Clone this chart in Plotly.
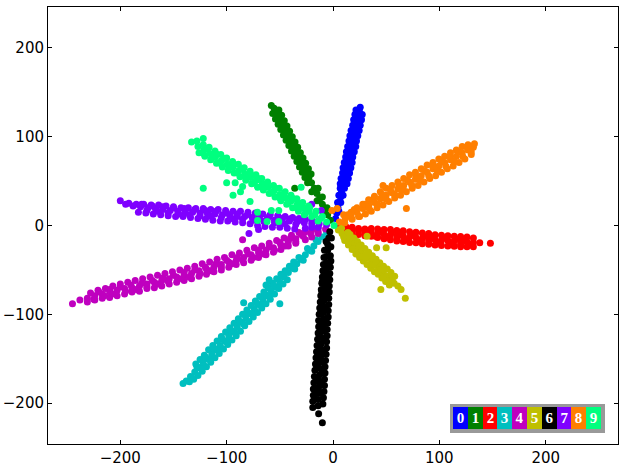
"""Ten-class scatter: points of each digit fan out from the origin."""
import plotly.graph_objects as go

digits = ["0", "1", "2", "3", "4", "5", "6", "7", "8", "9"]
colors = ["#0000FF", "#008000", "#FF0000", "#00BFBF", "#BF00BF",
          "#BFBF00", "#000000", "#7F00FF", "#FF7F00", "#00FF7F"]
tick_vals = [-200, -100, 0, 100, 200]

# values, one pair of lists per digit
x0 = [2.5, 3.6, 4.7, 5.8, 7.2, 8, 9.1, 10.6, 11.4, 12.2, 13.6, 15, 15.8, 16.9, 18.3, 19.1, 20, 21.4, 22.5, 23.6, 24.9, 25.6,
      6.8, 7.6, 9, 9.5, 10.6, 11.9, 12.6, 13.8, 15, 15.9, 17, 18.5, 19.4, 20.6, 21.6,
      13.2, 14.4, 15.6, 16.8, 18, 18.6, 20, 21.4, 22.1, 23.3, 24.6, 25.6, 26.8, 27.5,
      2.5, 5.5, 4.3, 7.3, 5.5, 9.5, 6.8, 10.8]
y0 = [8, 14, 20, 26, 32, 38, 44, 50, 56, 62, 68, 74, 80, 86, 92, 98, 104, 110, 116, 122, 128, 133,
      47, 53, 59, 65, 71, 77, 83, 89, 95, 101, 107, 113, 119, 125, 130,
      47, 53, 59, 65, 71, 77, 83, 89, 95, 101, 107, 113, 119, 125,
      16, 16, 26, 26, 34, 34, 42, 42]

x1 = [-2.5, -5, -7.6, -10, -12.6, -15.1, -17.6, -20.2, -22.7, -25.2, -27.7, -30.2, -32.8, -35.3, -37.8, -40.3, -42.8, -45.4, -47.9, -50.4, -52.9, -55.4, -58,
      -20.6, -23.1, -25.7, -28.2, -30.7, -33.2, -35.7, -38.3, -40.8, -43.3, -45.8, -48.3, -50.9,
      -23.9, -26.4, -28.9, -31.5, -34, -36.5, -39, -41.5, -44.1, -46.6, -49.1, -51.6, -54.1, -56.7, -36,
      -5.6, -9.6, -10, -15, -14, -20]
y1 = [6, 12, 18, 24, 30, 36, 42, 48, 54, 60, 66, 72, 78, 84, 90, 96, 102, 108, 114, 120, 126, 132, 135,
      58, 64, 70, 76, 82, 88, 94, 100, 106, 112, 118, 124, 130,
      48, 54, 60, 66, 72, 78, 84, 90, 96, 102, 108, 114, 120, 126, 42,
      20, 16, 32, 28, 42, 38]

x2 = [6, 12, 18, 24, 30, 36, 42, 48, 54, 60, 66, 72, 78, 84, 90, 96, 102, 108, 114, 120, 126, 132, 138, 148,
      24, 30, 36, 42, 48, 54, 60, 66, 72, 78, 84, 90, 96, 102, 108, 114, 120, 126, 132,
      36, 42, 48, 54, 60, 66, 72, 78, 84, 90, 96, 102, 108, 114, 120, 126, 132,
      35, 40, 45, 50, 55, 60, 65, 70, 75, 80, 85, 90, 95, 100, 105, 110, 115, 120, 125, 130,
      12, 12, 18, 18, 24, 30]
y2 = [-2, -4, -5, -6, -7.5, -8, -9, -10, -10.5, -11.5, -12, -13, -13.5, -14.5, -15, -16, -16.5, -17, -17.5, -18, -18.5, -19, -19.5, -20,
      -3.5, -4, -3.5, -4, -4.5, -4.5, -5.5, -6, -7, -7.5, -8.5, -9, -10.5, -11, -11.5, -12, -12.5, -13, -14,
      -12, -13.5, -15, -16, -17.5, -18, -19, -19.5, -20.5, -21, -22, -22.5, -23, -23.5, -24, -24, -24,
      -5, -12, -7, -13, -8, -15, -9, -16, -11, -17, -12, -18, -13, -19.5, -14, -20, -15, -21, -16, -22,
      -1, -7, -2, -8, -10, -11.5]

x3 = [-6, -10, -14, -18, -22, -26, -30, -34, -38, -42, -46, -50, -54, -58, -62, -66, -70, -74, -78, -82, -86, -90, -94, -98, -102, -106, -110, -114, -118, -122, -126, -130, -134, -138, -141,
      -37, -41, -45, -49, -53, -57, -61, -65, -69, -73, -77, -81, -85, -89, -93, -97, -101, -105, -109, -113, -117, -121, -125, -129,
      -43, -47, -51, -55, -59, -63, -67, -71, -75, -79, -83, -87, -91, -95, -99, -103, -107, -111, -115, -119, -123, -127, -131, -135,
      -48, -52, -56, -60, -64, -68, -72, -76, -80, -84, -88, -92, -96, -100, -104, -108, -112, -116, -120, -124, -128, -132,
      -63, -50, -84, -60, -16, -20, -24, -28, -32, -36]
y3 = [-8, -13, -18, -23, -28, -33, -38, -43, -48, -53, -58, -64, -69, -74, -79, -84, -89, -94, -99, -104, -109, -114, -119, -124, -130, -135, -140, -145, -150, -155, -160, -165, -170, -175, -178,
      -41, -46, -51, -55, -60, -65, -70, -75, -80, -85, -90, -95, -100, -105, -110, -115, -120, -125, -130, -135, -140, -146, -151, -156,
      -61, -66, -71, -77, -83, -88, -93, -98, -103, -108, -113, -119, -124, -129, -134, -139, -144, -149, -154, -159, -164, -169, -173, -176,
      -57, -70, -67, -80, -77, -90, -87, -100, -98, -111, -108, -121, -118, -131, -128, -141, -138, -151, -148, -161, -159, -172,
      -67, -88, -87, -61, -16, -29, -26, -39, -36, -49]

x4 = [-7, -14, -21, -28, -35, -42, -49, -56, -63, -70, -77, -84, -91, -98, -105, -112, -119, -126, -133, -140, -147, -154, -161, -168, -175, -182, -189, -196, -203, -210, -217, -224, -231, -238, -245,
      -32, -39, -46, -53, -60, -67, -74, -81, -88, -95, -102, -109, -116, -123, -130, -137, -144, -151, -158, -165, -172, -179, -186, -193, -200, -207, -214, -221, -228,
      -35, -42, -49, -56, -63, -70, -77, -84, -91, -98, -105, -112, -119, -126, -133, -140, -147, -154, -161, -168, -175, -182, -189, -196, -203, -210, -217, -224, -231,
      -30, -35, -40, -45, -50, -55, -60, -65, -70, -75, -80, -85, -90, -95, -100, -105, -110, -115, -120, -125, -130, -135, -140, -145, -150, -155, -160, -165, -170, -175, -180, -185, -190, -195, -200, -205, -210, -215, -220, -225,
      -85, -14, -14, -20, -20, -26, -26]
y4 = [-4, -7, -9, -12, -15, -18, -22, -25, -28, -31, -33, -36, -39, -41, -44, -47, -49, -51, -54, -56, -58, -60, -62, -64, -66, -68, -70, -71, -73, -75, -77, -79, -82, -84, -88,
      -8, -11, -14, -17, -20, -23, -25, -28, -31, -33, -36, -38, -41, -43, -46, -48, -50, -52, -54, -56, -58, -60, -62, -64, -66, -68, -71, -73, -76,
      -20, -23, -27, -30, -33, -36, -39, -42, -44, -47, -50, -52, -55, -57, -60, -62, -64, -66, -68, -70, -71, -74, -75, -77, -79, -81, -82, -84, -86,
      -10, -18, -14, -23, -19, -28, -24, -32, -28, -36, -32, -39, -36, -43, -39, -47, -43, -51, -47, -54, -50, -58, -53, -60, -56, -63, -59, -66, -62, -69, -65, -72, -67, -74, -69, -77, -72, -79, -75, -83,
      -16, -3, -9, -5, -13, -7, -16]

x5 = [5, 8.5, 12, 15.5, 19, 22.5, 26, 29.5, 33, 36.5, 40, 43.5, 47, 50.5, 54, 57.5, 61, 64,
      16, 19.5, 23, 26.5, 30, 33.5, 37, 40.5, 44, 47.5, 51, 54.5, 58,
      11, 14.5, 18, 21.5, 25, 28.5, 32, 35.5, 39, 42.5, 46, 49.5, 53,
      16, 20, 24, 28, 32, 36, 40, 44, 48, 52, 56,
      68, 45, 41, 50, 32, 8, 10, 14]
y5 = [-5, -9, -13, -17, -21, -25, -29, -33, -37, -41, -45, -49, -53, -57, -61, -65, -68, -72,
      -10, -14, -18, -22, -26, -30, -34, -38, -42, -46, -49, -53, -57,
      -17, -22, -27, -32, -36, -40, -44, -48, -52, -55, -59, -63, -67,
      -14, -26, -23, -35, -32, -44, -41, -53, -50, -62, -59,
      -82, -72, -25, -25, -12, -3, -13, -8]

x6 = [-3, -4, -5, -5, -6, -6, -6.5, -7, -7.5, -7.5, -8, -8.5, -8.5, -9, -9, -9.5, -10, -10.5, -11, -11, -11.5, -12, -12, -12.5, -13, -13.5, -14, -14, -14, -13.5, -10,
      -2, -2.5, -3, -3, -3.5, -3.5, -4, -4, -4.5, -4.5, -5, -5.5, -5.5, -6, -6, -6.5, -7, -7.5, -7.5, -8, -8, -8.5, -9, -9.5,
      -9, -9.5, -10, -10.5, -11, -11.5, -12, -12.5, -13, -13.5, -13.5, -14, -14.5, -15, -15.5, -16, -16.5, -17, -17.5, -18, -18.5, -18.5, -19, -19,
      -3.5, -9, -4.5, -10, -5, -10.5, -6, -11, -6.5, -12, -7, -12, -7.5, -13, -8, -14, -8.5, -14.5, -9, -15, -10, -16, -11, -16.5, -11.5, -17,
      -1.5, -6.5, -2, -8, -2.5, -8.5]
y6 = [-7, -14, -21, -28, -35, -42, -49, -56, -63, -70, -77, -84, -91, -98, -105, -112, -119, -126, -133, -140, -147, -154, -161, -168, -175, -182, -189, -196, -203, -212, -222,
      -40, -47, -54, -61, -68, -75, -82, -89, -96, -103, -110, -117, -124, -131, -138, -145, -152, -159, -166, -173, -180, -187, -194, -201,
      -44, -51, -58, -65, -72, -79, -86, -93, -100, -107, -114, -121, -128, -135, -142, -149, -156, -163, -170, -177, -184, -191, -198, -205,
      -45, -51, -57, -63, -69, -75, -81, -87, -93, -99, -105, -111, -117, -123, -129, -135, -141, -147, -153, -159, -165, -171, -177, -183, -189, -195,
      -14, -18, -24, -28, -34, -36]

x7 = [-6, -13, -20, -27, -34, -41, -48, -55, -62, -69, -76, -83, -90, -97, -104, -111, -118, -125, -132, -139, -146, -153, -160, -167, -174, -181, -188, -195, -200,
      -38, -45, -52, -59, -66, -73, -80, -87, -94, -101, -108, -115, -122, -129, -136, -143, -150, -157, -164, -171, -178, -185, -192,
      -36, -43, -50, -57, -64, -71, -78, -85, -92, -99, -106, -113, -120, -127, -134, -141, -148, -155, -162, -169, -176, -183,
      -30, -35, -40, -45, -50, -55, -60, -65, -70, -75, -80, -85, -90, -95, -100, -105, -110, -115, -120, -125, -130, -135, -140, -145, -150, -155, -160, -165, -170, -175, -180,
      -79, -70, -20, -11, -14, -14, -20, -20, -26, -26, -32]
y7 = [1, 2, 2, 3, 4, 5, 5, 6, 7, 8, 9, 10, 10, 11, 12, 13, 13, 14, 15, 15, 16, 17, 18, 19, 20, 21, 22, 24, 28,
      9, 10, 11, 12, 13, 14, 15, 16, 16, 17, 18, 18, 19, 19, 20, 20, 21, 22, 23, 23, 24, 24, 25,
      -4, -3, -2, -2, -1, 0, 2, 3, 4, 5, 5, 6, 7, 8, 9, 10, 10, 11, 12, 13, 14, 15,
      6, 1, 7.5, 2, 8.5, 3, 10, 4.5, 11.5, 6, 12.5, 7, 13, 8, 14, 9, 16, 10.5, 17, 11, 18, 12, 19, 13, 20, 14, 21, 16, 22, 17, 24,
      -9, -4.5, 24, 17, 5, -2, 6, -2, 7, -3, 8]

x8 = [6, 11.5, 17, 22.5, 28, 33.5, 39, 44.5, 50, 55.5, 61, 66.5, 72, 77.5, 83, 88.5, 94, 99.5, 105, 110.5, 116, 121.5, 127, 132,
      17, 22.5, 28, 33.5, 39, 44.5, 50, 55.5, 61, 66.5, 72, 77.5, 83, 88.5, 94, 99.5, 105, 110.5, 116, 121.5, 127, 133,
      25, 30.5, 36, 41.5, 47, 52.5, 58, 63.5, 69, 74.5, 80, 85.5, 91, 96.5, 102, 107.5, 113, 118.5, 124, 130,
      30, 34, 38, 42, 46, 50, 54, 58, 62, 66, 70, 74, 78, 82, 86, 90, 94, 98, 102, 106, 110, 114, 118, 122, 126, 130,
      69, 47, 4, -1, 10, 11, 14, 18, 24, 20, 12]
y8 = [4, 8, 11, 15, 19, 23, 26, 30, 34, 37, 41, 45, 49, 52, 56, 60, 64, 67, 71, 74, 78, 82, 85, 88,
      15, 20, 24, 29, 33, 38, 42, 45, 49, 53, 57, 60, 64, 68, 71, 75, 78, 82, 85, 89, 91, 92,
      10, 13, 16, 20, 23, 27, 31, 34, 38, 42, 45, 49, 53, 56, 60, 64, 67, 71, 75, 80,
      24, 19, 29.5, 24, 35, 29.5, 40, 35, 45.5, 40, 51, 45.5, 56, 51, 61.6, 56, 67, 61.7, 72, 67, 78, 72.4, 83, 77.7, 88, 83,
      19, 45, 19, 17, 12, 3, 12, 7, 10, 18, 9]

x9 = [-6, -11.5, -17, -22.5, -28, -33.5, -39, -44.5, -50, -55.5, -61, -66.5, -72, -77.5, -83, -88.5, -94, -99.5, -105, -110.5, -116, -121.5, -127, -133,
      -23, -28.5, -34, -39.5, -45, -50.5, -56, -61.5, -67, -72.5, -78, -83.5, -89, -94.5, -100, -105.5, -111, -116.5, -122, -128,
      -27, -32.5, -38, -43.5, -49, -54.5, -60, -65.5, -71, -76.5, -82, -87.5, -93, -98.5, -104, -109.5, -115, -120.5, -126,
      -30, -34, -38, -42, -46, -50, -54, -58, -62, -66, -70, -74, -78, -82, -86, -90, -94, -98, -102, -106, -110, -114, -118, -122,
      -122, -122, -71, -71, -62, -51, -51, -58, -94, -78, -87, -100, -92, -85, -30, 1,
      -10, -14, -16, -20, -22, -26]
y9 = [4, 8, 12, 16, 20, 24, 28, 31, 35, 39, 43, 47, 51, 54, 58, 62, 66, 69, 73, 77, 81, 85, 89, 94,
      22, 26, 30, 34, 38, 42, 45, 49, 53, 57, 61, 65, 69, 72, 76, 80, 84, 88, 91, 95,
      12, 16, 20, 24, 28, 32, 36, 40, 43, 47, 51, 55, 59, 62, 66, 70, 74, 78, 82,
      25, 20, 30.6, 25.4, 36, 31, 42, 36.6, 47.4, 42, 53, 47.8, 58.6, 53.4, 64, 59, 70, 64.6, 75.4, 70, 81, 75.8, 86.6, 81.4,
      42, 98, 15, 5.6, 4.5, 4.5, 17, 17, 34, 27, 38, 48, 48, 44, 43, 0,
      10, 5, 16, 10, 20, 14]

all_x = [x0, x1, x2, x3, x4, x5, x6, x7, x8, x9]
all_y = [y0, y1, y2, y3, y4, y5, y6, y7, y8, y9]

W, H = 626, 467
L, R, T, B = 48, 618, 7, 444


def px(x):
    return (x - L) / (R - L)


def py(y):
    return (B - y) / (B - T)


fig = go.Figure()
for d, c, xs, ys in zip(digits, colors, all_x, all_y):
    fig.add_trace(go.Scatter(x=xs, y=ys, name=d, mode="markers",
                             marker=dict(color=c, size=7, line=dict(width=0))))

# digit key in the lower right corner
fig.add_shape(type="rect", xref="paper", yref="paper",
              x0=px(450), x1=px(605), y0=py(433), y1=py(404),
              fillcolor="#999999", line=dict(width=0), layer="above")
cell_w = 14.8
for i, (d, c) in enumerate(zip(digits, colors)):
    fig.add_annotation(text=f"<b>{d}</b>", xref="paper", yref="paper",
                       x=px(453 + cell_w * (i + 0.5)), y=py(418),
                       xanchor="center", yanchor="middle", showarrow=False,
                       width=cell_w, height=22, bgcolor=c, borderpad=0, borderwidth=0,
                       font=dict(family="Liberation Serif", size=15, color="white"))

axis = dict(tickvals=tick_vals, ticks="inside", ticklen=4, tickcolor="black", tickwidth=1,
            showgrid=False, zeroline=False, showline=True, linecolor="black", linewidth=1,
            mirror="ticks", automargin=False,
            tickfont=dict(family="DejaVu Sans", size=15, color="black"))
fig.update_xaxes(range=[-268, 268], **axis)
fig.update_yaxes(range=[-246, 246], **axis)
fig.update_layout(width=W, height=H, margin=dict(l=L, r=W - R, t=T, b=H - B),
                  showlegend=False, plot_bgcolor="white", paper_bgcolor="white")
# the page's default body margin would push the chart off its place
fig.write_html("out.html", config=dict(displayModeBar=False),
               post_script="document.body.style.margin='0';")
